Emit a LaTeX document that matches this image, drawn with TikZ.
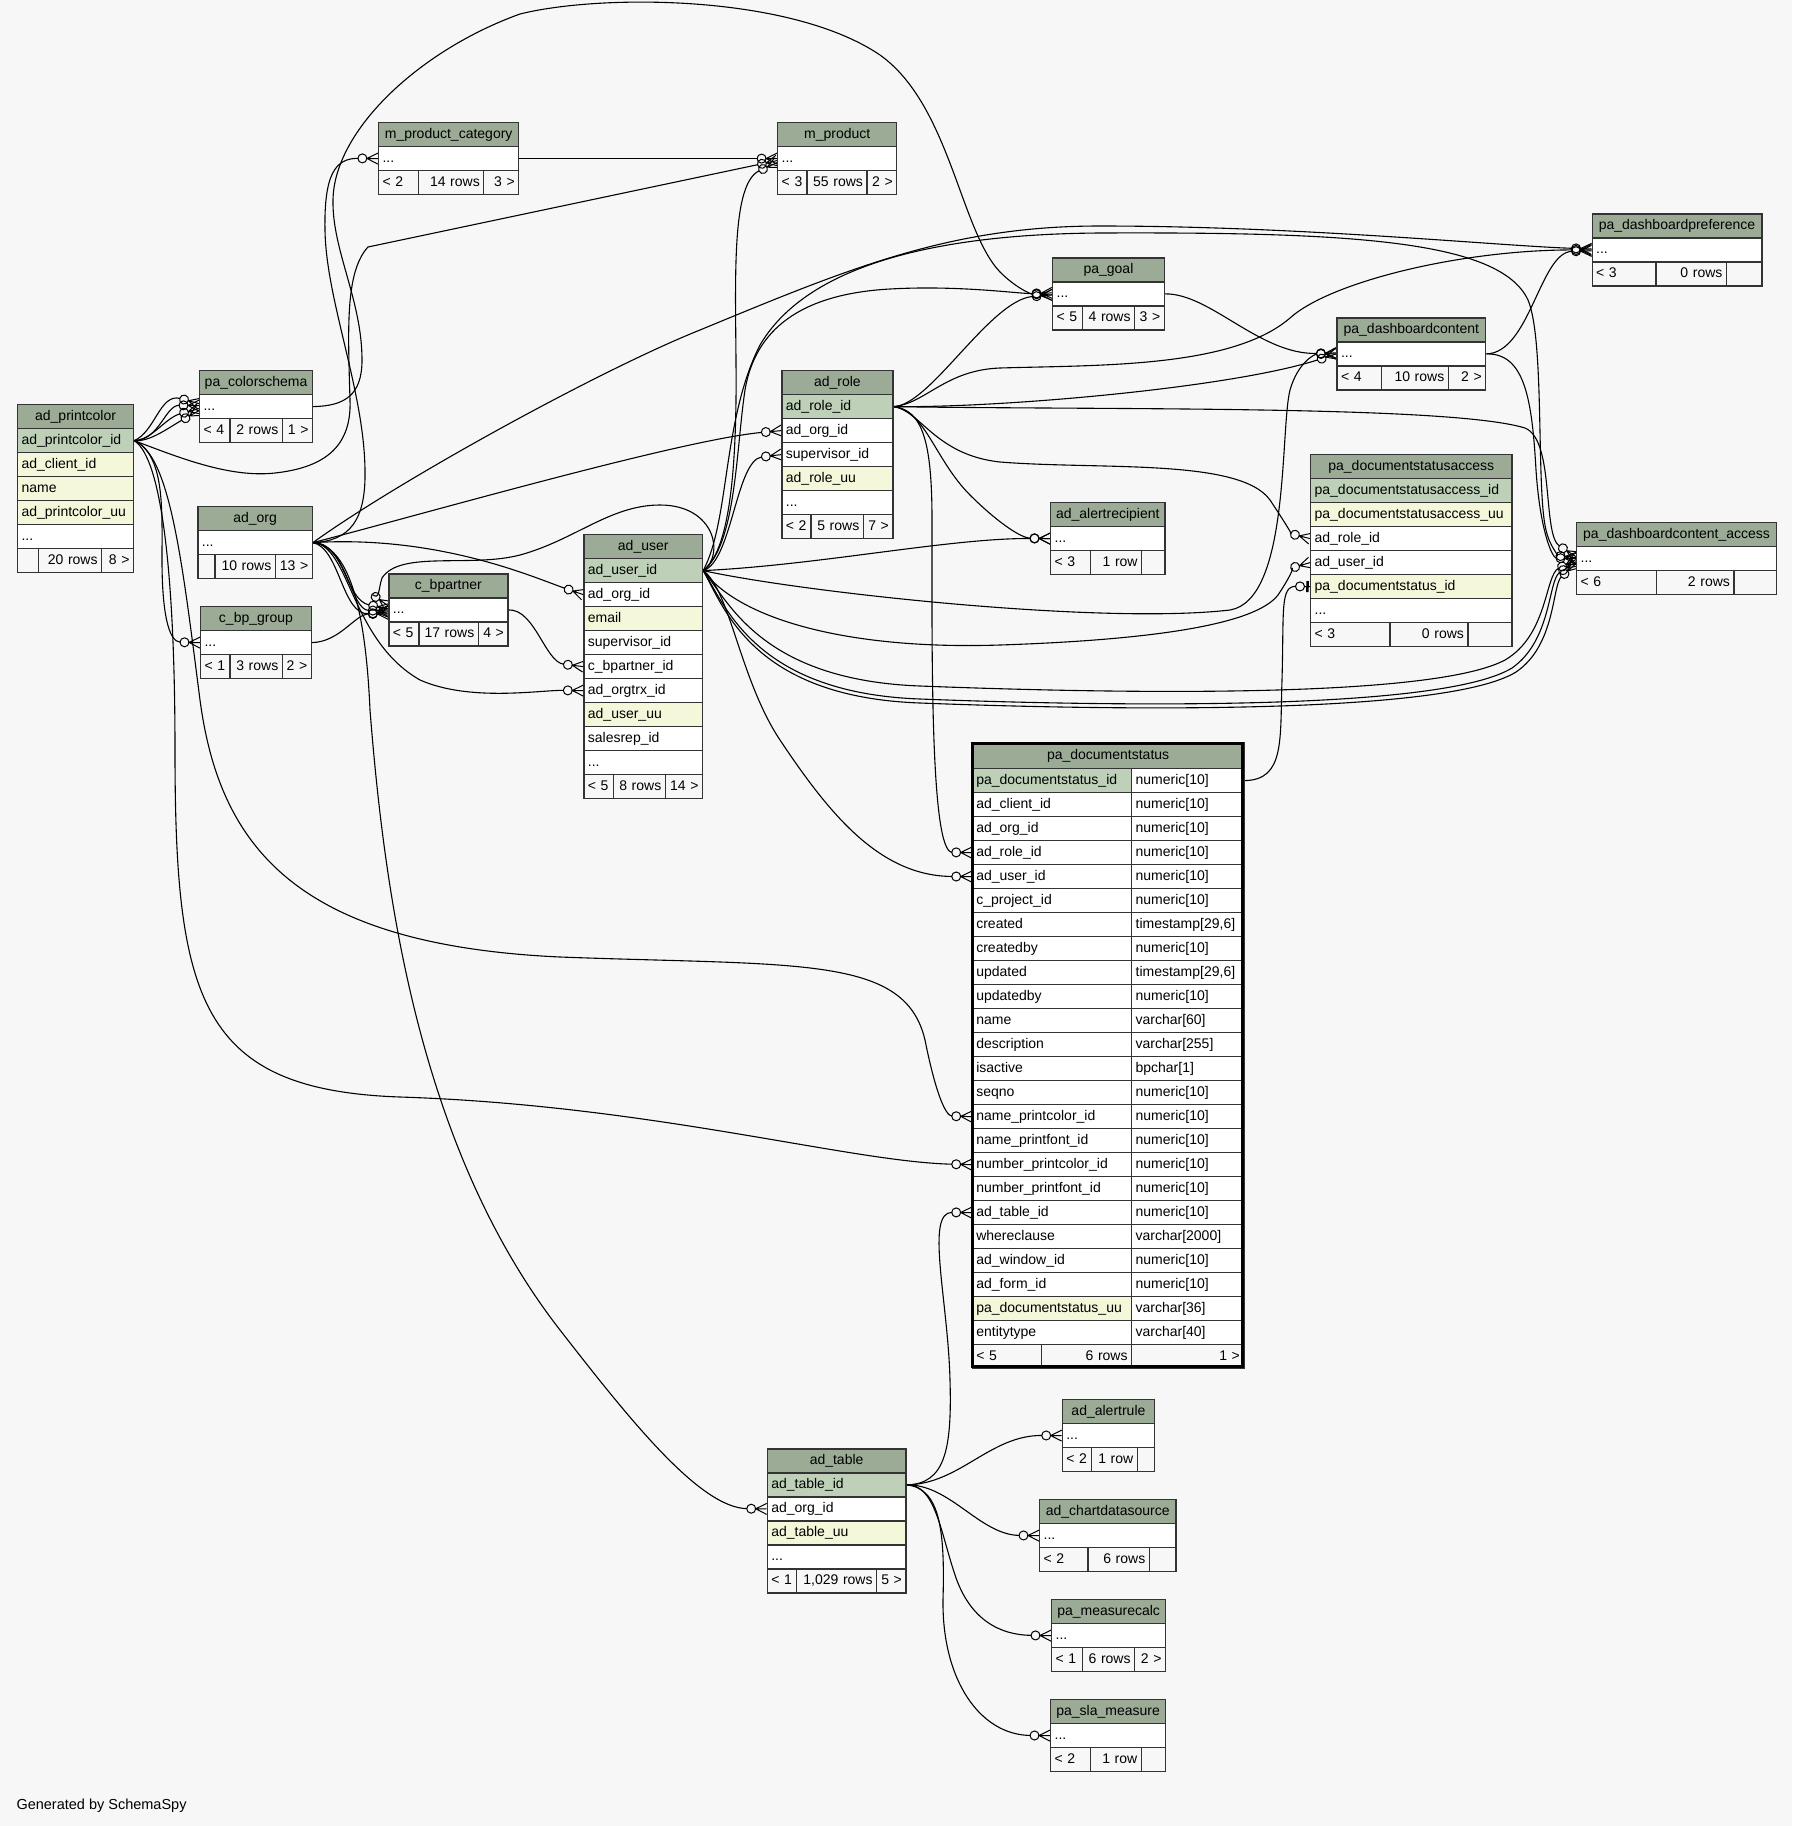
\documentclass[tikz,border=0pt]{standalone}
\usepackage{fontspec}
\setmainfont{Liberation Sans}
\hyphenpenalty=10000
\exhyphenpenalty=10000

\definecolor{bgcol}{HTML}{F7F7F7}
\definecolor{hdcol}{HTML}{9BAB96}
\definecolor{pkcol}{HTML}{BED1B8}
\definecolor{ixcol}{HTML}{F4F7DA}

\pgfdeclarearrow{
  name=crowodot,
  setup code={
    \pgfarrowssettipend{0pt}
    \pgfarrowssetlineend{-19.5pt}
    \pgfarrowssetvisualbackend{-20pt}
    \pgfarrowssetbackend{-20pt}
    \pgfarrowshullpoint{0pt}{6pt}
    \pgfarrowshullpoint{0pt}{-6pt}
    \pgfarrowshullpoint{-20pt}{5pt}
    \pgfarrowshullpoint{-20pt}{-5pt}
  },
  drawing code={
    \pgfsetdash{}{0pt}
    \pgfsetlinewidth{1pt}
    \pgfpathmoveto{\pgfqpoint{0pt}{5.5pt}}
    \pgfpathlineto{\pgfqpoint{-11pt}{0pt}}
    \pgfpathlineto{\pgfqpoint{0pt}{-5.5pt}}
    \pgfpathmoveto{\pgfqpoint{-11pt}{0pt}}
    \pgfpathlineto{\pgfqpoint{0pt}{0pt}}
    \pgfusepathqstroke
    \pgfpathcircle{\pgfqpoint{-15.5pt}{0pt}}{4.5pt}
    \pgfusepathqstroke
  }
}
\pgfdeclarearrow{
  name=teeodot,
  setup code={
    \pgfarrowssettipend{0pt}
    \pgfarrowssetlineend{-14pt}
    \pgfarrowssetvisualbackend{-14.5pt}
    \pgfarrowssetbackend{-14.5pt}
    \pgfarrowshullpoint{0pt}{6pt}
    \pgfarrowshullpoint{0pt}{-6pt}
    \pgfarrowshullpoint{-14.5pt}{5pt}
    \pgfarrowshullpoint{-14.5pt}{-5pt}
  },
  drawing code={
    \pgfsetdash{}{0pt}
    \pgfsetlinewidth{1pt}
    \pgfpathmoveto{\pgfqpoint{-5.5pt}{0pt}}
    \pgfpathlineto{\pgfqpoint{0pt}{0pt}}
    \pgfusepathqstroke
    \pgfpathcircle{\pgfqpoint{-10pt}{0pt}}{4.5pt}
    \pgfusepathqstroke
    \pgfsetlinewidth{2.5pt}
    \pgfpathmoveto{\pgfqpoint{-2.5pt}{5.5pt}}
    \pgfpathlineto{\pgfqpoint{-2.5pt}{-5.5pt}}
    \pgfusepathqstroke
  }
}

\pgfdeclarelayer{back}
\pgfdeclarelayer{wires}
\pgfsetlayers{back,wires,main}

\tikzset{
  cell/.style={draw=black!80, line width=1.2pt, anchor=north west, inner xsep=4pt, inner ysep=0pt,
    minimum height=24pt, text height=11pt, text depth=3pt, text width=#1,
    font=\fontsize{14}{16}\selectfont},
  hd/.style={cell=#1, fill=hdcol, align=center},
  pk/.style={cell=#1, fill=pkcol, align=left},
  ix/.style={cell=#1, fill=ixcol, align=left},
  col/.style={cell=#1, fill=white, align=left},
  fl/.style={cell=#1, fill=bgcol, align=left},
  fr/.style={cell=#1, fill=bgcol, align=right},
  fk/.style={line width=1.1pt, -{crowodot[]}},
  uq/.style={line width=1.1pt, -{teeodot[]}}
}

\begin{document}
\begin{tikzpicture}[x=1pt, y=-1pt]
\useasboundingbox (0,0) rectangle (1792,1826);
\begin{pgfonlayer}{back}
\fill[bgcol] (0,0) rectangle (1792,1826);
\end{pgfonlayer}

\node[hd=108pt] (pc) at (17,404) {ad\_printcolor};
\node[pk=108pt] (pcid) at (17,428) {ad\_printcolor\_id};
\node[ix=108pt] (pccl) at (17,452) {ad\_client\_id};
\node[ix=108pt] (pcnm) at (17,476) {name};
\node[ix=108pt] (pcuu) at (17,500) {ad\_printcolor\_uu};
\node[col=108pt] (pcmore) at (17,524) {...};
\node[fl=13pt] (pcfa) at (17,548) {};
\node[fr=55pt] (pcfb) at (38,548) {20~rows};
\node[fr=24pt] (pcfc) at (101,548) {8~>};

\node[hd=105pt] (cs) at (199,370) {pa\_colorschema};
\node[col=105pt] (csd) at (199,394) {...};
\node[fl=22.3pt] (csfa) at (199,418) {<~4};
\node[fr=44.4pt] (csfb) at (229.3,418) {2~rows};
\node[fr=22.3pt] (csfc) at (281.7,418) {1~>};

\node[hd=106.4pt] (org) at (197.3,506) {ad\_org};
\node[col=106.4pt] (orgd) at (197.3,530) {...};
\node[fl=9pt] (orgfa) at (197.3,554) {};
\node[fr=52.4pt] (orgfb) at (214.3,554) {10~rows};
\node[fr=29pt] (orgfc) at (274.7,554) {13~>};

\node[hd=102.7pt] (bpg) at (200,606) {c\_bp\_group};
\node[col=102.7pt] (bpgd) at (200,630) {...};
\node[fl=21.3pt] (bpgfa) at (200,654) {<~1};
\node[fr=44.4pt] (bpgfb) at (229.3,654) {3~rows};
\node[fr=21pt] (bpgfc) at (281.7,654) {2~>};

\node[hd=132.3pt] (mpc) at (377.9,122) {m\_product\_category};
\node[col=132.3pt] (mpcd) at (377.9,146) {...};
\node[fl=32pt] (mpcfa) at (377.9,170) {<~2};
\node[fr=57.3pt] (mpcfb) at (417.9,170) {14~rows};
\node[fr=27pt] (mpcfc) at (483.2,170) {3~>};

\node[hd=111pt] (mp) at (777.1,122) {m\_product};
\node[col=111pt] (mpd) at (777.1,146) {...};
\node[fl=21.3pt] (mpfa) at (777.1,170) {<~3};
\node[fr=52pt] (mpfb) at (806.4,170) {55~rows};
\node[fr=21.7pt] (mpfc) at (866.4,170) {2~>};

\node[hd=111pt] (bp) at (388.3,573.3) {c\_bpartner};
\node[col=111pt] (bpd) at (388.3,597.3) {...};
\node[fl=22pt] (bpfa) at (388.3,621.3) {<~5};
\node[fr=51.4pt] (bpfb) at (418.3,621.3) {17~rows};
\node[fr=21.6pt] (bpfc) at (477.7,621.3) {4~>};

\node[hd=110.7pt] (us) at (583.3,534) {ad\_user};
\node[pk=110.7pt] (usid) at (583.3,558) {ad\_user\_id};
\node[col=110.7pt] (usorg) at (583.3,582) {ad\_org\_id};
\node[ix=110.7pt] (usmail) at (583.3,606) {email};
\node[col=110.7pt] (ussup) at (583.3,630) {supervisor\_id};
\node[col=110.7pt] (usbp) at (583.3,654) {c\_bpartner\_id};
\node[col=110.7pt] (ustrx) at (583.3,678) {ad\_orgtrx\_id};
\node[ix=110.7pt] (usuu) at (583.3,702) {ad\_user\_uu};
\node[col=110.7pt] (ussr) at (583.3,726) {salesrep\_id};
\node[col=110.7pt] (usmore) at (583.3,750) {...};
\node[fl=21.4pt] (usfa) at (583.3,774) {<~5};
\node[fr=44pt] (usfb) at (612.7,774) {8~rows};
\node[fr=29.3pt] (usfc) at (664.7,774) {14~>};

\node[hd=103pt] (ro) at (781.3,370) {ad\_role};
\node[pk=103pt] (roid) at (781.3,394) {ad\_role\_id};
\node[col=103pt] (roorg) at (781.3,418) {ad\_org\_id};
\node[col=103pt] (rosup) at (781.3,442) {supervisor\_id};
\node[ix=103pt] (rouu) at (781.3,466) {ad\_role\_uu};
\node[col=103pt] (romore) at (781.3,490) {...};
\node[fl=21pt] (rofa) at (781.3,514) {<~2};
\node[fr=44.4pt] (rofb) at (810.3,514) {5~rows};
\node[fr=21.6pt] (rofc) at (862.7,514) {7~>};

\node[hd=103.7pt] (gl) at (1052,257.3) {pa\_goal};
\node[col=103.7pt] (gld) at (1052,281.3) {...};
\node[fl=22.2pt] (glfa) at (1052,305.3) {<~5};
\node[fr=43.8pt] (glfb) at (1082.2,305.3) {4~rows};
\node[fr=21.7pt] (glfc) at (1134,305.3) {3~>};

\node[hd=140.7pt] (dc) at (1336.4,317.3) {pa\_dashboardcontent};
\node[col=140.7pt] (dcd) at (1336.4,341.3) {...};
\node[fl=36.1pt] (dcfa) at (1336.4,365.3) {<~4};
\node[fr=59.2pt] (dcfb) at (1380.5,365.3) {10~rows};
\node[fr=29.4pt] (dcfc) at (1447.7,365.3) {2~>};

\node[hd=161.8pt] (dp) at (1591.5,213.3) {pa\_dashboardpreference};
\node[col=161.8pt] (dpd) at (1591.5,237.3) {...};
\node[fl=55.8pt] (dpfa) at (1591.5,261.3) {<~3};
\node[fr=62.5pt] (dpfb) at (1655.3,261.3) {0~rows};
\node[fr=27.5pt] (dpfc) at (1725.8,261.3) {};

\node[hd=193.3pt] (dsa) at (1310,454) {pa\_documentstatusaccess};
\node[pk=193.3pt] (dsaid) at (1310,478) {pa\_documentstatusaccess\_id};
\node[ix=193.3pt] (dsauu) at (1310,502) {pa\_documentstatusaccess\_uu};
\node[col=193.3pt] (dsarole) at (1310,526) {ad\_role\_id};
\node[col=193.3pt] (dsauser) at (1310,550) {ad\_user\_id};
\node[ix=193.3pt] (dsads) at (1310,574) {pa\_documentstatus\_id};
\node[col=193.3pt] (dsamore) at (1310,598) {...};
\node[fl=71.3pt] (dsafa) at (1310,622) {<~3};
\node[fr=70pt] (dsafb) at (1389.3,622) {0~rows};
\node[fr=36pt] (dsafc) at (1467.3,622) {};

\node[hd=192pt] (dca) at (1576,522) {pa\_dashboardcontent\_access};
\node[col=192pt] (dcad) at (1576,546) {...};
\node[fl=71.7pt] (dcafa) at (1576,570) {<~6};
\node[fr=69.6pt] (dcafb) at (1655.7,570) {2~rows};
\node[fr=34.7pt] (dcafc) at (1733.3,570) {};

\node[hd=106.3pt] (ar) at (1050,502) {ad\_alertrecipient};
\node[col=106.3pt] (ard) at (1050,526) {...};
\node[fl=32pt] (arfa) at (1050,550) {<~3};
\node[fr=43pt] (arfb) at (1090,550) {1~row};
\node[fr=15.3pt] (arfc) at (1141,550) {};

\node[hd=263.6pt, minimum height=25.7pt] (ds) at (971.7,742.3) {pa\_documentstatus};
\node[pk=151.3pt] (dsid) at (971.7,768) {pa\_documentstatus\_id};
\node[col=104.3pt] (dsidt) at (1131,768) {numeric[10]};
\node[col=151.3pt] (dscl) at (971.7,792) {ad\_client\_id};
\node[col=104.3pt] (dsclt) at (1131,792) {numeric[10]};
\node[col=151.3pt] (dsorg) at (971.7,816) {ad\_org\_id};
\node[col=104.3pt] (dsorgt) at (1131,816) {numeric[10]};
\node[col=151.3pt] (dsrole) at (971.7,840) {ad\_role\_id};
\node[col=104.3pt] (dsrolet) at (1131,840) {numeric[10]};
\node[col=151.3pt] (dsuser) at (971.7,864) {ad\_user\_id};
\node[col=104.3pt] (dsusert) at (1131,864) {numeric[10]};
\node[col=151.3pt] (dsproj) at (971.7,888) {c\_project\_id};
\node[col=104.3pt] (dsprojt) at (1131,888) {numeric[10]};
\node[col=151.3pt] (dscr) at (971.7,912) {created};
\node[col=104.3pt] (dscrt) at (1131,912) {timestamp[29,6]};
\node[col=151.3pt] (dscb) at (971.7,936) {createdby};
\node[col=104.3pt] (dscbt) at (1131,936) {numeric[10]};
\node[col=151.3pt] (dsup) at (971.7,960) {updated};
\node[col=104.3pt] (dsupt) at (1131,960) {timestamp[29,6]};
\node[col=151.3pt] (dsub) at (971.7,984) {updatedby};
\node[col=104.3pt] (dsubt) at (1131,984) {numeric[10]};
\node[col=151.3pt] (dsnm) at (971.7,1008) {name};
\node[col=104.3pt] (dsnmt) at (1131,1008) {varchar[60]};
\node[col=151.3pt] (dsdesc) at (971.7,1032) {description};
\node[col=104.3pt] (dsdesct) at (1131,1032) {varchar[255]};
\node[col=151.3pt] (dsact) at (971.7,1056) {isactive};
\node[col=104.3pt] (dsactt) at (1131,1056) {bpchar[1]};
\node[col=151.3pt] (dsseq) at (971.7,1080) {seqno};
\node[col=104.3pt] (dsseqt) at (1131,1080) {numeric[10]};
\node[col=151.3pt] (dsnpc) at (971.7,1104) {name\_printcolor\_id};
\node[col=104.3pt] (dsnpct) at (1131,1104) {numeric[10]};
\node[col=151.3pt] (dsnpf) at (971.7,1128) {name\_printfont\_id};
\node[col=104.3pt] (dsnpft) at (1131,1128) {numeric[10]};
\node[col=151.3pt] (dsnumpc) at (971.7,1152) {number\_printcolor\_id};
\node[col=104.3pt] (dsnumpct) at (1131,1152) {numeric[10]};
\node[col=151.3pt] (dsnumpf) at (971.7,1176) {number\_printfont\_id};
\node[col=104.3pt] (dsnumpft) at (1131,1176) {numeric[10]};
\node[col=151.3pt] (dstab) at (971.7,1200) {ad\_table\_id};
\node[col=104.3pt] (dstabt) at (1131,1200) {numeric[10]};
\node[col=151.3pt] (dswc) at (971.7,1224) {whereclause};
\node[col=104.3pt] (dswct) at (1131,1224) {varchar[2000]};
\node[col=151.3pt] (dswin) at (971.7,1248) {ad\_window\_id};
\node[col=104.3pt] (dswint) at (1131,1248) {numeric[10]};
\node[col=151.3pt] (dsform) at (971.7,1272) {ad\_form\_id};
\node[col=104.3pt] (dsformt) at (1131,1272) {numeric[10]};
\node[ix=151.3pt] (dsuu) at (971.7,1296) {pa\_documentstatus\_uu};
\node[col=104.3pt] (dsuut) at (1131,1296) {varchar[36]};
\node[col=151.3pt] (dset) at (971.7,1320) {entitytype};
\node[col=104.3pt] (dsett) at (1131,1320) {varchar[40]};
\node[fl=61pt] (dsfa) at (971.7,1344) {<~5};
\node[fr=82.3pt] (dsfb) at (1040.7,1344) {6~rows};
\node[fr=104.3pt] (dsfc) at (1131,1344) {1~>};
\draw[line width=3pt, black] (972.5,743.7) rectangle (1242,1366.8);

\node[hd=130.6pt] (tb) at (766.7,1448.3) {ad\_table};
\node[pk=130.6pt] (tbid) at (766.7,1472.3) {ad\_table\_id};
\node[col=130.6pt] (tborg) at (766.7,1496.3) {ad\_org\_id};
\node[ix=130.6pt] (tbuu) at (766.7,1520.3) {ad\_table\_uu};
\node[col=130.6pt] (tbmore) at (766.7,1544.3) {...};
\node[fl=21pt] (tbfa) at (766.7,1568.3) {<~1};
\node[fr=72.3pt] (tbfb) at (795.7,1568.3) {1,029~rows};
\node[fr=21.3pt] (tbfc) at (876,1568.3) {5~>};

\node[hd=84.3pt] (aru) at (1061.7,1399) {ad\_alertrule};
\node[col=84.3pt] (arud) at (1061.7,1423) {...};
\node[fl=21.3pt] (arufa) at (1061.7,1447) {<~2};
\node[fr=37.7pt] (arufb) at (1091,1447) {1~row};
\node[fr=9.3pt] (arufc) at (1136.7,1447) {};

\node[hd=128.3pt] (cds) at (1039,1499) {ad\_chartdatasource};
\node[col=128.3pt] (cdsd) at (1039,1523) {...};
\node[fl=40.3pt] (cdsfa) at (1039,1547) {<~2};
\node[fr=53.4pt] (cdsfb) at (1087.3,1547) {6~rows};
\node[fr=18.6pt] (cdsfc) at (1148.7,1547) {};

\node[hd=106pt] (mc) at (1051,1599) {pa\_measurecalc};
\node[col=106pt] (mcd) at (1051,1623) {...};
\node[fl=22.7pt] (mcfa) at (1051,1647) {<~1};
\node[fr=44.3pt] (mcfb) at (1081.7,1647) {6~rows};
\node[fr=23pt] (mcfc) at (1134,1647) {2~>};

\node[hd=107pt] (sla) at (1050,1699) {pa\_sla\_measure};
\node[col=107pt] (slad) at (1050,1723) {...};
\node[fl=32pt] (slafa) at (1050,1747) {<~2};
\node[fr=42.7pt] (slafb) at (1090,1747) {1~row};
\node[fr=16.3pt] (slafc) at (1140.7,1747) {};

\node[anchor=west, inner sep=0pt, font=\fontsize{14.5}{17}\selectfont] (credit) at (16.3,1806) {Generated by SchemaSpy};

\begin{pgfonlayer}{wires}
\draw[fk] (pcid.east) .. controls (155,432) and (160,393) .. ([yshift=3pt]csd.west);
\draw[fk] (pcid.east) .. controls (160,440) and (165,405) .. ([yshift=1pt]csd.west);
\draw[fk] (pcid.east) .. controls (152,440) and (165,418) .. ([yshift=-2pt]csd.west);
\draw[fk] (pcid.east) .. controls (150,442) and (168,428) .. ([yshift=-4pt]csd.west);
\draw[fk] (pcid.east) .. controls (180,458) and (230,478) .. (275,473) .. controls (320,468) and (352,450) .. (350,400) .. controls (348,330) and (345,272) .. (368,247) -- ([yshift=-2pt]mpd.west);
\draw[fk] (pcid.east) .. controls (165,455) and (162,510) .. (162,560) .. controls (162,610) and (168,642) .. (bpgd.west);
\draw[fk] (pcid.east) .. controls (170,455) and (182,560) .. (200,700) .. controls (220,850) and (300,945) .. (560,957) .. controls (800,966) and (905,955) .. (925,1040) .. controls (935,1090) and (945,1116) .. (dsnpc.west);
\draw[fk] (pcid.east) .. controls (165,460) and (175,600) .. (175,750) .. controls (175,1000) and (200,1090) .. (400,1097) .. controls (650,1105) and (850,1162) .. (dsnumpc.west);

\draw[fk] (csd.east) .. controls (345,406) and (362,395) .. (362,360) .. controls (362,300) and (332,250) .. (333,200) .. controls (334,130) and (420,50) .. (520,14) .. controls (600,-6) and (790,-6) .. (880,55) .. controls (950,105) and (960,230) .. (1000,272) .. controls (1015,287) and (1030,294) .. ([yshift=-1pt]gld.west);

\draw[fk] (orgd.east) .. controls (350,541) and (366,520) .. (365,470) .. controls (364,390) and (326,300) .. (325,230) .. controls (324,175) and (335,158) .. (mpcd.west);
\draw[fk] (mpcd.east) -- (mpd.west);
\draw[fk] (orgd.east) .. controls (420,515) and (680,440) .. (roorg.west);
\draw[fk] (orgd.east) .. controls (440,535) and (535,578) .. (usorg.west);
\draw[fk] (orgd.east) .. controls (350,545) and (350,640) .. (420,680) .. controls (470,702) and (540,690) .. (ustrx.west);
\draw[fk] (orgd.east) .. controls (345,542) and (345,600) .. ([yshift=1pt]bpd.west);
\draw[fk] (orgd.east) .. controls (348,545) and (350,610) .. ([yshift=-1pt]bpd.west);
\draw[fk] (orgd.east) .. controls (340,548) and (342,616) .. ([yshift=-2pt]bpd.west);
\draw[fk] (orgd.east) .. controls (352,546) and (366,620) .. (370,710) .. controls (385,900) and (420,1150) .. (560,1330) .. controls (630,1420) and (700,1508) .. (tborg.west);
\draw[fk] (orgd.east) .. controls (400,480) and (600,370) .. (700,330) .. controls (850,268) and (950,226) .. (1100,226) .. controls (1300,226) and (1500,246) .. ([yshift=1pt]dpd.west);

\draw[fk] (bpgd.east) .. controls (340,642) and (355,614) .. ([yshift=-4pt]bpd.west);
\draw[fk] (bpd.east) .. controls (535,609) and (545,662) .. (usbp.west);

\draw[fk] (usid.east) .. controls (730,520) and (722,420) .. (760,345) .. controls (810,260) and (950,234) .. (1100,233) .. controls (1350,232) and (1500,240) .. (1528,300) .. controls (1545,340) and (1536,490) .. (1546,530) .. controls (1550,548) and (1560,556) .. ([yshift=1pt]dcad.west);
\draw[fk] (usid.east) .. controls (736,545) and (736,450) .. (745,390) .. controls (755,330) and (800,294) .. (890,289) .. controls (960,285) and (1020,294) .. ([yshift=1pt]gld.west);
\draw[fk] (usid.east) .. controls (728,552) and (735,480) .. (736,400) .. controls (737,300) and (728,185) .. ([yshift=-4pt]mpd.west);
\draw[fk] (usid.east) .. controls (732,562) and (736,460) .. (rosup.west);
\draw[fk] (usid.east) .. controls (725,555) and (715,505) .. (660,505) .. controls (610,505) and (575,540) .. (520,555) .. controls (470,568) and (400,550) .. (382,578) .. controls (378,590) and (380,600) .. ([yshift=4pt]bpd.west);
\draw[fk] (usid.east) .. controls (820,565) and (950,538) .. (ard.west);
\draw[fk] (usid.east) .. controls (800,592) and (1100,625) .. (1230,610) .. controls (1290,600) and (1280,430) .. (1290,390) .. controls (1298,362) and (1315,354) .. (dcd.west);
\draw[fk] (usid.east) .. controls (740,620) and (850,650) .. (1000,645) .. controls (1150,640) and (1255,625) .. (1278,595) .. controls (1288,580) and (1295,567) .. (dsauser.west);
\draw[fk] (usid.east) .. controls (730,590) and (740,680) .. (780,740) .. controls (830,815) and (880,876) .. (dsuser.west);
\draw[fk] (usid.east) .. controls (728,600) and (760,680) .. (920,686) .. controls (1100,693) and (1430,700) .. (1505,660) .. controls (1548,635) and (1545,575) .. ([yshift=-1pt]dcad.west);
\draw[fk] (usid.east) .. controls (725,605) and (755,693) .. (920,699) .. controls (1100,706) and (1440,712) .. (1512,668) .. controls (1552,640) and (1548,580) .. ([yshift=-3pt]dcad.west);
\draw[fk] (usid.east) .. controls (724,607) and (752,697) .. (920,703) .. controls (1100,710) and (1445,716) .. (1516,672) .. controls (1556,645) and (1552,585) .. ([yshift=-5pt]dcad.west);

\draw[fk] (roid.east) .. controls (930,406) and (990,300) .. ([yshift=-1pt]gld.west);
\draw[fk] (roid.east) .. controls (925,404) and (945,370) .. (1000,368) .. controls (1100,365) and (1232,368) .. (1290,318) .. controls (1330,282) and (1460,250) .. (dpd.west);
\draw[fk] (roid.east) .. controls (1000,408) and (1230,388) .. (dcd.west);
\draw[fk] (roid.east) .. controls (1100,410) and (1450,405) .. (1525,428) .. controls (1555,440) and (1542,535) .. ([yshift=2pt]dcad.west);
\draw[fk] (roid.east) .. controls (920,410) and (935,455) .. (1000,462) .. controls (1100,470) and (1240,458) .. (1270,500) .. controls (1282,518) and (1292,534) .. (dsarole.west);
\draw[fk] (roid.east) .. controls (925,410) and (935,460) .. (970,495) .. controls (995,520) and (1020,538) .. (ard.west);
\draw[fk] (roid.east) .. controls (922,410) and (932,440) .. (932,520) .. controls (932,650) and (930,852) .. (dsrole.west);

\draw[fk] (gld.east) .. controls (1210,293) and (1260,355) .. ([yshift=1pt]dcd.west);
\draw[fk] (dcd.east) .. controls (1530,353) and (1540,252) .. ([yshift=-1pt]dpd.west);
\draw[fk] (dcd.east) .. controls (1525,353) and (1532,400) .. (1536,470) .. controls (1540,530) and (1552,558) .. (dcad.west);
\draw[uq] (dsidt.east) .. controls (1285,780) and (1280,740) .. (1282,680) .. controls (1284,610) and (1280,586) .. (dsads.west);

\draw[fk] (tbid.east) .. controls (945,1484) and (952,1450) .. (950,1380) .. controls (948,1300) and (925,1212) .. (dstab.west);
\draw[fk] (tbid.east) .. controls (960,1484) and (990,1435) .. (arud.west);
\draw[fk] (tbid.east) .. controls (950,1484) and (980,1535) .. (cdsd.west);
\draw[fk] (tbid.east) .. controls (935,1484) and (940,1530) .. (955,1575) .. controls (970,1620) and (1000,1635) .. (mcd.west);
\draw[fk] (tbid.east) .. controls (940,1488) and (945,1530) .. (943,1600) .. controls (942,1680) and (980,1735) .. (slad.west);
\end{pgfonlayer}
\end{tikzpicture}
\end{document}
